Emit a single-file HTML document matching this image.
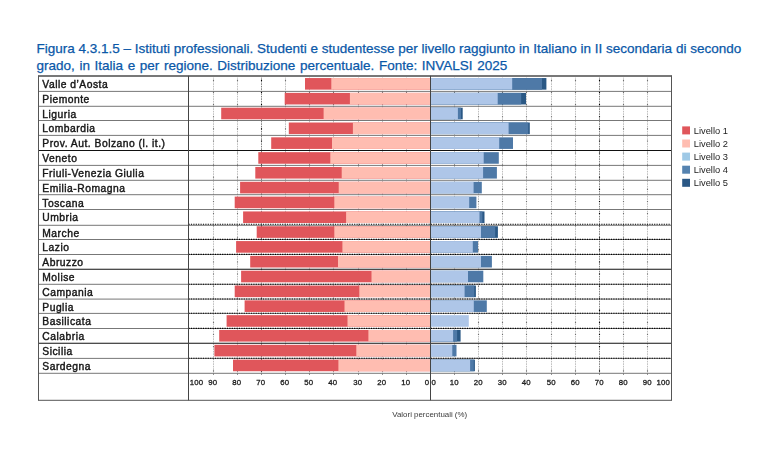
<!DOCTYPE html>
<html lang="it"><head><meta charset="utf-8"><title>Figura 4.3.1.5</title>
<style>
html,body{margin:0;padding:0;background:#fff;}
body{width:770px;height:471px;overflow:hidden;position:relative;font-family:"Liberation Sans",sans-serif;}
#l2{word-spacing:0.87px;}#title{position:absolute;left:36.5px;top:39.6px;width:730px;margin:0;font-size:13.5px;line-height:17.6px;-webkit-text-stroke:0.25px #0A58A8;font-weight:normal;color:#0A58A8;white-space:nowrap;}
svg{position:absolute;left:0;top:0;will-change:transform;}
.lab{font-family:'Liberation Sans', 'DejaVu Sans', sans-serif;font-weight:normal;font-size:10.3px;fill:#151515;stroke:#151515;stroke-width:0.4px;letter-spacing:0.5px;}
.ax{font-family:"Liberation Sans",sans-serif;font-weight:normal;font-size:7.8px;fill:#1c1c1c;stroke:#1c1c1c;stroke-width:0.3px;letter-spacing:0.15px;}
.leg{font-family:"Liberation Sans",sans-serif;font-size:9.3px;fill:#222;}
.cap{font-family:"Liberation Sans",sans-serif;font-size:7.9px;fill:#3a3a3a;}
</style></head><body>
<h1 id="title"><span id="l1">Figura 4.3.1.5 – Istituti professionali. Studenti e studentesse per livello raggiunto in Italiano in II secondaria di secondo</span><br><span id="l2">grado, in Italia e per regione. Distribuzione percentuale. Fonte: INVALSI 2025</span></h1>
<svg width="770" height="471" viewBox="0 0 770 471">
<g stroke-width="0.85" fill="none">
<line x1="406.5" y1="75.8" x2="406.5" y2="373.3" stroke="#b2b2b2" stroke-dasharray="1.6 0.9"/>
<line x1="406.5" y1="79.9" x2="406.5" y2="373.3" stroke="#707070" stroke-width="1.1" stroke-dasharray="1.1 11"/>
<line x1="382.5" y1="75.8" x2="382.5" y2="373.3" stroke="#b2b2b2" stroke-dasharray="1.6 0.9"/>
<line x1="382.5" y1="79.9" x2="382.5" y2="373.3" stroke="#707070" stroke-width="1.1" stroke-dasharray="1.1 11"/>
<line x1="358.5" y1="75.8" x2="358.5" y2="373.3" stroke="#b2b2b2" stroke-dasharray="1.6 0.9"/>
<line x1="358.5" y1="79.9" x2="358.5" y2="373.3" stroke="#707070" stroke-width="1.1" stroke-dasharray="1.1 11"/>
<line x1="333.5" y1="75.8" x2="333.5" y2="373.3" stroke="#b2b2b2" stroke-dasharray="1.6 0.9"/>
<line x1="333.5" y1="79.9" x2="333.5" y2="373.3" stroke="#707070" stroke-width="1.1" stroke-dasharray="1.1 11"/>
<line x1="309.5" y1="75.8" x2="309.5" y2="373.3" stroke="#b2b2b2" stroke-dasharray="1.6 0.9"/>
<line x1="309.5" y1="79.9" x2="309.5" y2="373.3" stroke="#707070" stroke-width="1.1" stroke-dasharray="1.1 11"/>
<line x1="285.5" y1="75.8" x2="285.5" y2="373.3" stroke="#b2b2b2" stroke-dasharray="1.6 0.9"/>
<line x1="285.5" y1="79.9" x2="285.5" y2="373.3" stroke="#707070" stroke-width="1.1" stroke-dasharray="1.1 11"/>
<line x1="261.5" y1="75.8" x2="261.5" y2="373.3" stroke="#6a6a6a" stroke-dasharray="1.6 0.9"/>
<line x1="261.5" y1="79.9" x2="261.5" y2="373.3" stroke="#000" stroke-width="1.1" stroke-dasharray="1.1 11"/>
<line x1="237.5" y1="75.8" x2="237.5" y2="373.3" stroke="#b2b2b2" stroke-dasharray="1.6 0.9"/>
<line x1="237.5" y1="79.9" x2="237.5" y2="373.3" stroke="#707070" stroke-width="1.1" stroke-dasharray="1.1 11"/>
<line x1="213.5" y1="75.8" x2="213.5" y2="373.3" stroke="#b2b2b2" stroke-dasharray="1.6 0.9"/>
<line x1="213.5" y1="79.9" x2="213.5" y2="373.3" stroke="#707070" stroke-width="1.1" stroke-dasharray="1.1 11"/>
<line x1="454.5" y1="75.8" x2="454.5" y2="373.3" stroke="#b2b2b2" stroke-dasharray="1.6 0.9"/>
<line x1="454.5" y1="79.9" x2="454.5" y2="373.3" stroke="#707070" stroke-width="1.1" stroke-dasharray="1.1 11"/>
<line x1="478.5" y1="75.8" x2="478.5" y2="373.3" stroke="#b2b2b2" stroke-dasharray="1.6 0.9"/>
<line x1="478.5" y1="79.9" x2="478.5" y2="373.3" stroke="#707070" stroke-width="1.1" stroke-dasharray="1.1 11"/>
<line x1="502.5" y1="75.8" x2="502.5" y2="373.3" stroke="#b2b2b2" stroke-dasharray="1.6 0.9"/>
<line x1="502.5" y1="79.9" x2="502.5" y2="373.3" stroke="#707070" stroke-width="1.1" stroke-dasharray="1.1 11"/>
<line x1="526.5" y1="75.8" x2="526.5" y2="373.3" stroke="#b2b2b2" stroke-dasharray="1.6 0.9"/>
<line x1="526.5" y1="79.9" x2="526.5" y2="373.3" stroke="#707070" stroke-width="1.1" stroke-dasharray="1.1 11"/>
<line x1="551.5" y1="75.8" x2="551.5" y2="373.3" stroke="#b2b2b2" stroke-dasharray="1.6 0.9"/>
<line x1="551.5" y1="79.9" x2="551.5" y2="373.3" stroke="#707070" stroke-width="1.1" stroke-dasharray="1.1 11"/>
<line x1="575.5" y1="75.8" x2="575.5" y2="373.3" stroke="#b2b2b2" stroke-dasharray="1.6 0.9"/>
<line x1="575.5" y1="79.9" x2="575.5" y2="373.3" stroke="#707070" stroke-width="1.1" stroke-dasharray="1.1 11"/>
<line x1="599.5" y1="75.8" x2="599.5" y2="373.3" stroke="#6a6a6a" stroke-dasharray="1.6 0.9"/>
<line x1="599.5" y1="79.9" x2="599.5" y2="373.3" stroke="#000" stroke-width="1.1" stroke-dasharray="1.1 11"/>
<line x1="623.5" y1="75.8" x2="623.5" y2="373.3" stroke="#b2b2b2" stroke-dasharray="1.6 0.9"/>
<line x1="623.5" y1="79.9" x2="623.5" y2="373.3" stroke="#707070" stroke-width="1.1" stroke-dasharray="1.1 11"/>
<line x1="647.5" y1="75.8" x2="647.5" y2="373.3" stroke="#b2b2b2" stroke-dasharray="1.6 0.9"/>
<line x1="647.5" y1="79.9" x2="647.5" y2="373.3" stroke="#707070" stroke-width="1.1" stroke-dasharray="1.1 11"/>
</g>
<g shape-rendering="auto">
<rect x="305.0" y="78.05" width="125.5" height="11.6" fill="#E0565B"/>
<rect x="331.3" y="78.05" width="99.2" height="11.6" fill="#FFBDB1"/>
<rect x="430.5" y="78.05" width="115.9" height="11.6" fill="#2A5885"/>
<rect x="430.5" y="78.05" width="111.5" height="11.6" fill="#4E79A7"/>
<rect x="430.5" y="78.05" width="81.7" height="11.6" fill="#AEC6E8"/>
<rect x="284.7" y="92.87" width="145.8" height="11.6" fill="#E0565B"/>
<rect x="349.9" y="92.87" width="80.6" height="11.6" fill="#FFBDB1"/>
<rect x="430.5" y="92.87" width="95.5" height="11.6" fill="#2A5885"/>
<rect x="430.5" y="92.87" width="90.7" height="11.6" fill="#4E79A7"/>
<rect x="430.5" y="92.87" width="67.2" height="11.6" fill="#AEC6E8"/>
<rect x="221.2" y="107.69" width="209.3" height="11.6" fill="#E0565B"/>
<rect x="323.6" y="107.69" width="106.9" height="11.6" fill="#FFBDB1"/>
<rect x="430.5" y="107.69" width="32.2" height="11.6" fill="#2A5885"/>
<rect x="430.5" y="107.69" width="30.5" height="11.6" fill="#4E79A7"/>
<rect x="430.5" y="107.69" width="27.4" height="11.6" fill="#AEC6E8"/>
<rect x="288.8" y="122.51" width="141.7" height="11.6" fill="#E0565B"/>
<rect x="352.9" y="122.51" width="77.6" height="11.6" fill="#FFBDB1"/>
<rect x="430.5" y="122.51" width="99.3" height="11.6" fill="#2A5885"/>
<rect x="430.5" y="122.51" width="97.8" height="11.6" fill="#4E79A7"/>
<rect x="430.5" y="122.51" width="78.1" height="11.6" fill="#AEC6E8"/>
<rect x="271.2" y="137.33" width="159.3" height="11.6" fill="#E0565B"/>
<rect x="332.0" y="137.33" width="98.5" height="11.6" fill="#FFBDB1"/>
<rect x="430.5" y="137.33" width="82.5" height="11.6" fill="#4E79A7"/>
<rect x="430.5" y="137.33" width="68.7" height="11.6" fill="#AEC6E8"/>
<rect x="258.3" y="152.15" width="172.2" height="11.6" fill="#E0565B"/>
<rect x="330.3" y="152.15" width="100.2" height="11.6" fill="#FFBDB1"/>
<rect x="430.5" y="152.15" width="68.3" height="11.6" fill="#4E79A7"/>
<rect x="430.5" y="152.15" width="53.2" height="11.6" fill="#AEC6E8"/>
<rect x="255.3" y="166.97" width="175.2" height="11.6" fill="#E0565B"/>
<rect x="341.7" y="166.97" width="88.8" height="11.6" fill="#FFBDB1"/>
<rect x="430.5" y="166.97" width="66.4" height="11.6" fill="#4E79A7"/>
<rect x="430.5" y="166.97" width="52.6" height="11.6" fill="#AEC6E8"/>
<rect x="240.1" y="181.79" width="190.4" height="11.6" fill="#E0565B"/>
<rect x="338.7" y="181.79" width="91.8" height="11.6" fill="#FFBDB1"/>
<rect x="430.5" y="181.79" width="51.3" height="11.6" fill="#4E79A7"/>
<rect x="430.5" y="181.79" width="43.1" height="11.6" fill="#AEC6E8"/>
<rect x="234.7" y="196.61" width="195.8" height="11.6" fill="#E0565B"/>
<rect x="334.3" y="196.61" width="96.2" height="11.6" fill="#FFBDB1"/>
<rect x="430.5" y="196.61" width="45.9" height="11.6" fill="#4E79A7"/>
<rect x="430.5" y="196.61" width="38.7" height="11.6" fill="#AEC6E8"/>
<rect x="243.1" y="211.43" width="187.4" height="11.6" fill="#E0565B"/>
<rect x="346.1" y="211.43" width="84.4" height="11.6" fill="#FFBDB1"/>
<rect x="430.5" y="211.43" width="54.0" height="11.6" fill="#2A5885"/>
<rect x="430.5" y="211.43" width="51.9" height="11.6" fill="#4E79A7"/>
<rect x="430.5" y="211.43" width="49.0" height="11.6" fill="#AEC6E8"/>
<rect x="256.7" y="226.25" width="173.8" height="11.6" fill="#E0565B"/>
<rect x="334.3" y="226.25" width="96.2" height="11.6" fill="#FFBDB1"/>
<rect x="430.5" y="226.25" width="67.4" height="11.6" fill="#2A5885"/>
<rect x="430.5" y="226.25" width="64.7" height="11.6" fill="#4E79A7"/>
<rect x="430.5" y="226.25" width="50.5" height="11.6" fill="#AEC6E8"/>
<rect x="236.1" y="241.07" width="194.4" height="11.6" fill="#E0565B"/>
<rect x="342.4" y="241.07" width="88.1" height="11.6" fill="#FFBDB1"/>
<rect x="430.5" y="241.07" width="47.5" height="11.6" fill="#4E79A7"/>
<rect x="430.5" y="241.07" width="42.3" height="11.6" fill="#AEC6E8"/>
<rect x="250.2" y="255.89" width="180.3" height="11.6" fill="#E0565B"/>
<rect x="338.0" y="255.89" width="92.5" height="11.6" fill="#FFBDB1"/>
<rect x="430.5" y="255.89" width="61.4" height="11.6" fill="#4E79A7"/>
<rect x="430.5" y="255.89" width="50.5" height="11.6" fill="#AEC6E8"/>
<rect x="241.1" y="270.71" width="189.4" height="11.6" fill="#E0565B"/>
<rect x="371.5" y="270.71" width="59.0" height="11.6" fill="#FFBDB1"/>
<rect x="430.5" y="270.71" width="52.8" height="11.6" fill="#4E79A7"/>
<rect x="430.5" y="270.71" width="37.5" height="11.6" fill="#AEC6E8"/>
<rect x="234.7" y="285.53" width="195.8" height="11.6" fill="#E0565B"/>
<rect x="359.3" y="285.53" width="71.2" height="11.6" fill="#FFBDB1"/>
<rect x="430.5" y="285.53" width="45.4" height="11.6" fill="#2A5885"/>
<rect x="430.5" y="285.53" width="43.8" height="11.6" fill="#4E79A7"/>
<rect x="430.5" y="285.53" width="34.1" height="11.6" fill="#AEC6E8"/>
<rect x="244.6" y="300.35" width="185.9" height="11.6" fill="#E0565B"/>
<rect x="344.5" y="300.35" width="86.0" height="11.6" fill="#FFBDB1"/>
<rect x="430.5" y="300.35" width="56.3" height="11.6" fill="#4E79A7"/>
<rect x="430.5" y="300.35" width="43.3" height="11.6" fill="#AEC6E8"/>
<rect x="226.6" y="315.17" width="203.9" height="11.6" fill="#E0565B"/>
<rect x="347.5" y="315.17" width="83.0" height="11.6" fill="#FFBDB1"/>
<rect x="430.5" y="315.17" width="38.3" height="11.6" fill="#AEC6E8"/>
<rect x="219.2" y="329.99" width="211.3" height="11.6" fill="#E0565B"/>
<rect x="368.4" y="329.99" width="62.1" height="11.6" fill="#FFBDB1"/>
<rect x="430.5" y="329.99" width="30.1" height="11.6" fill="#2A5885"/>
<rect x="430.5" y="329.99" width="26.6" height="11.6" fill="#4E79A7"/>
<rect x="430.5" y="329.99" width="22.6" height="11.6" fill="#AEC6E8"/>
<rect x="214.4" y="344.81" width="216.1" height="11.6" fill="#E0565B"/>
<rect x="356.3" y="344.81" width="74.2" height="11.6" fill="#FFBDB1"/>
<rect x="430.5" y="344.81" width="26.0" height="11.6" fill="#4E79A7"/>
<rect x="430.5" y="344.81" width="21.8" height="11.6" fill="#AEC6E8"/>
<rect x="233.0" y="359.63" width="197.5" height="11.6" fill="#E0565B"/>
<rect x="338.4" y="359.63" width="92.1" height="11.6" fill="#FFBDB1"/>
<rect x="430.5" y="359.63" width="44.4" height="11.6" fill="#2A5885"/>
<rect x="430.5" y="359.63" width="43.3" height="11.6" fill="#4E79A7"/>
<rect x="430.5" y="359.63" width="39.6" height="11.6" fill="#AEC6E8"/>
</g>
<g fill="none">
<line x1="38.5" y1="91.4" x2="671.5" y2="91.4" stroke="#686868" stroke-width="0.9"/>
<line x1="38.5" y1="106.3" x2="671.5" y2="106.3" stroke="#686868" stroke-width="0.9"/>
<line x1="38.5" y1="120.5" x2="671.5" y2="120.5" stroke="#686868" stroke-width="0.9"/>
<line x1="38.5" y1="135.4" x2="671.5" y2="135.4" stroke="#686868" stroke-width="0.9"/>
<line x1="38.5" y1="150.5" x2="671.5" y2="150.5" stroke="#111" stroke-width="1.1"/>
<line x1="38.5" y1="165.4" x2="671.5" y2="165.4" stroke="#686868" stroke-width="0.9"/>
<line x1="38.5" y1="180.3" x2="671.5" y2="180.3" stroke="#686868" stroke-width="0.9"/>
<line x1="38.5" y1="194.7" x2="671.5" y2="194.7" stroke="#686868" stroke-width="0.9"/>
<line x1="38.5" y1="209.5" x2="671.5" y2="209.5" stroke="#686868" stroke-width="0.9"/>
<line x1="38.5" y1="225.3" x2="671.5" y2="225.3" stroke="#686868" stroke-width="0.9"/>
<line x1="188.5" y1="224.30" x2="671.5" y2="224.30" stroke="#000" stroke-width="1.1" stroke-dasharray="1.2 1.2"/>
<line x1="38.5" y1="239.5" x2="671.5" y2="239.5" stroke="#686868" stroke-width="0.9"/>
<line x1="188.5" y1="239.40" x2="671.5" y2="239.40" stroke="#000" stroke-width="1.1" stroke-dasharray="1.2 1.2"/>
<line x1="38.5" y1="254.5" x2="671.5" y2="254.5" stroke="#686868" stroke-width="0.9"/>
<line x1="188.5" y1="254.40" x2="671.5" y2="254.40" stroke="#000" stroke-width="1.1" stroke-dasharray="1.2 1.2"/>
<line x1="38.5" y1="269.3" x2="671.5" y2="269.3" stroke="#111" stroke-width="1.1"/>
<line x1="38.5" y1="284.3" x2="671.5" y2="284.3" stroke="#686868" stroke-width="0.9"/>
<line x1="188.5" y1="284.20" x2="671.5" y2="284.20" stroke="#000" stroke-width="1.1" stroke-dasharray="1.2 1.2"/>
<line x1="38.5" y1="299.1" x2="671.5" y2="299.1" stroke="#686868" stroke-width="0.9"/>
<line x1="188.5" y1="299.00" x2="671.5" y2="299.00" stroke="#000" stroke-width="1.1" stroke-dasharray="1.2 1.2"/>
<line x1="38.5" y1="313.4" x2="671.5" y2="313.4" stroke="#686868" stroke-width="0.9"/>
<line x1="188.5" y1="313.30" x2="671.5" y2="313.30" stroke="#000" stroke-width="1.1" stroke-dasharray="1.2 1.2"/>
<line x1="38.5" y1="328.5" x2="671.5" y2="328.5" stroke="#686868" stroke-width="0.9"/>
<line x1="188.5" y1="328.40" x2="671.5" y2="328.40" stroke="#000" stroke-width="1.1" stroke-dasharray="1.2 1.2"/>
<line x1="38.5" y1="343.3" x2="671.5" y2="343.3" stroke="#111" stroke-width="1.1"/>
<line x1="38.5" y1="358.4" x2="671.5" y2="358.4" stroke="#686868" stroke-width="0.9"/>
<line x1="188.5" y1="358.30" x2="671.5" y2="358.30" stroke="#000" stroke-width="1.1" stroke-dasharray="1.2 1.2"/>
<line x1="38.5" y1="373.3" x2="671.5" y2="373.3" stroke="#686868" stroke-width="0.9"/>
<line x1="406.5" y1="373.3" x2="406.5" y2="374.8" stroke="#777" stroke-width="1"/>
<line x1="382.5" y1="373.3" x2="382.5" y2="374.8" stroke="#777" stroke-width="1"/>
<line x1="358.5" y1="373.3" x2="358.5" y2="374.8" stroke="#777" stroke-width="1"/>
<line x1="333.5" y1="373.3" x2="333.5" y2="374.8" stroke="#777" stroke-width="1"/>
<line x1="309.5" y1="373.3" x2="309.5" y2="374.8" stroke="#777" stroke-width="1"/>
<line x1="285.5" y1="373.3" x2="285.5" y2="374.8" stroke="#777" stroke-width="1"/>
<line x1="261.5" y1="373.3" x2="261.5" y2="374.8" stroke="#777" stroke-width="1"/>
<line x1="237.5" y1="373.3" x2="237.5" y2="374.8" stroke="#777" stroke-width="1"/>
<line x1="213.5" y1="373.3" x2="213.5" y2="374.8" stroke="#777" stroke-width="1"/>
<line x1="454.5" y1="373.3" x2="454.5" y2="374.8" stroke="#777" stroke-width="1"/>
<line x1="478.5" y1="373.3" x2="478.5" y2="374.8" stroke="#777" stroke-width="1"/>
<line x1="502.5" y1="373.3" x2="502.5" y2="374.8" stroke="#777" stroke-width="1"/>
<line x1="526.5" y1="373.3" x2="526.5" y2="374.8" stroke="#777" stroke-width="1"/>
<line x1="551.5" y1="373.3" x2="551.5" y2="374.8" stroke="#777" stroke-width="1"/>
<line x1="575.5" y1="373.3" x2="575.5" y2="374.8" stroke="#777" stroke-width="1"/>
<line x1="599.5" y1="373.3" x2="599.5" y2="374.8" stroke="#777" stroke-width="1"/>
<line x1="623.5" y1="373.3" x2="623.5" y2="374.8" stroke="#777" stroke-width="1"/>
<line x1="647.5" y1="373.3" x2="647.5" y2="374.8" stroke="#777" stroke-width="1"/>
<line x1="38.0" y1="76.0" x2="672.0" y2="76.0" stroke="#787878" stroke-width="1.8"/>
<line x1="38.0" y1="400.3" x2="672.0" y2="400.3" stroke="#555" stroke-width="1"/>
<line x1="38.5" y1="75.8" x2="38.5" y2="400.3" stroke="#555" stroke-width="1"/>
<line x1="671.5" y1="75.8" x2="671.5" y2="400.3" stroke="#555" stroke-width="1"/>
<line x1="188.5" y1="75.8" x2="188.5" y2="400.3" stroke="#444" stroke-width="1"/>
<line x1="430.5" y1="75.8" x2="430.5" y2="400.3" stroke="#444" stroke-width="1"/>
</g>
<text class="lab" x="42.3" y="87.80">Valle d’Aosta</text>
<text class="lab" x="42.3" y="103.30">Piemonte</text>
<text class="lab" x="42.3" y="118.20">Liguria</text>
<text class="lab" x="42.3" y="132.40">Lombardia</text>
<text class="lab" x="42.3" y="147.30">Prov. Aut. Bolzano (l. it.)</text>
<text class="lab" x="42.3" y="162.40">Veneto</text>
<text class="lab" x="42.3" y="177.30">Friuli-Venezia Giulia</text>
<text class="lab" x="42.3" y="192.20">Emilia-Romagna</text>
<text class="lab" x="42.3" y="206.60">Toscana</text>
<text class="lab" x="42.3" y="221.40">Umbria</text>
<text class="lab" x="42.3" y="237.20">Marche</text>
<text class="lab" x="42.3" y="251.40">Lazio</text>
<text class="lab" x="42.3" y="266.40">Abruzzo</text>
<text class="lab" x="42.3" y="281.20">Molise</text>
<text class="lab" x="42.3" y="296.20">Campania</text>
<text class="lab" x="42.3" y="311.00">Puglia</text>
<text class="lab" x="42.3" y="325.30">Basilicata</text>
<text class="lab" x="42.3" y="340.40">Calabria</text>
<text class="lab" x="42.3" y="355.20">Sicilia</text>
<text class="lab" x="42.3" y="370.30">Sardegna</text>
<text class="ax" x="189.8" y="385.2">100</text>
<text class="ax" text-anchor="middle" x="405.7" y="385.2">10</text>
<text class="ax" text-anchor="middle" x="454.2" y="385.2">10</text>
<text class="ax" text-anchor="middle" x="381.7" y="385.2">20</text>
<text class="ax" text-anchor="middle" x="478.2" y="385.2">20</text>
<text class="ax" text-anchor="middle" x="357.7" y="385.2">30</text>
<text class="ax" text-anchor="middle" x="502.2" y="385.2">30</text>
<text class="ax" text-anchor="middle" x="332.7" y="385.2">40</text>
<text class="ax" text-anchor="middle" x="526.2" y="385.2">40</text>
<text class="ax" text-anchor="middle" x="308.7" y="385.2">50</text>
<text class="ax" text-anchor="middle" x="551.2" y="385.2">50</text>
<text class="ax" text-anchor="middle" x="284.7" y="385.2">60</text>
<text class="ax" text-anchor="middle" x="575.2" y="385.2">60</text>
<text class="ax" text-anchor="middle" x="260.7" y="385.2">70</text>
<text class="ax" text-anchor="middle" x="599.2" y="385.2">70</text>
<text class="ax" text-anchor="middle" x="236.7" y="385.2">80</text>
<text class="ax" text-anchor="middle" x="623.2" y="385.2">80</text>
<text class="ax" text-anchor="middle" x="212.7" y="385.2">90</text>
<text class="ax" text-anchor="middle" x="647.2" y="385.2">90</text>
<text class="ax" text-anchor="end" x="429.2" y="385.2">0</text>
<text class="ax" x="431.6" y="385.2">0</text>
<text class="ax" text-anchor="end" x="670" y="385.2">100</text>
<text class="cap" x="392.3" y="417">Valori percentuali (%)</text>
<rect x="682.2" y="126.4" width="7.8" height="8" fill="#E0565B"/>
<text class="leg" x="693.8" y="134.0">Livello 1</text>
<rect x="682.2" y="139.5" width="7.8" height="8" fill="#FFBDB1"/>
<text class="leg" x="693.8" y="147.1">Livello 2</text>
<rect x="682.2" y="152.6" width="7.8" height="8" fill="#9FC9E6"/>
<text class="leg" x="693.8" y="160.2">Livello 3</text>
<rect x="682.2" y="165.7" width="7.8" height="8" fill="#5583B0"/>
<text class="leg" x="693.8" y="173.3">Livello 4</text>
<rect x="682.2" y="178.8" width="7.8" height="8" fill="#2A5885"/>
<text class="leg" x="693.8" y="186.4">Livello 5</text>
</svg>
</body></html>
